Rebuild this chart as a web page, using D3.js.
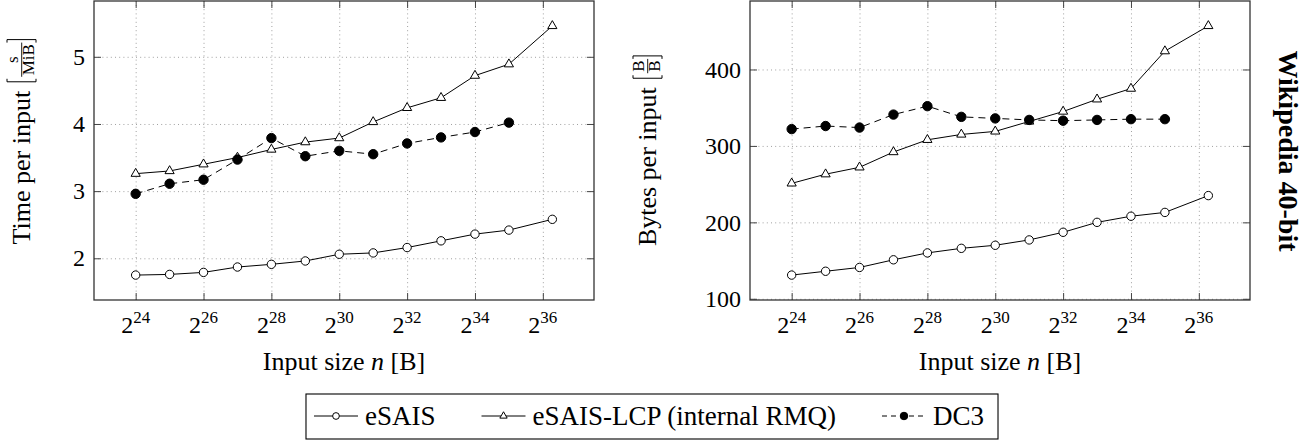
<!DOCTYPE html>
<html>
<head>
<meta charset="utf-8">
<script src="https://cdn.jsdelivr.net/npm/d3@7"></script>
<style>
  body { margin: 0; background: #fff; }
  svg text { font-family: "Liberation Serif", "Times New Roman", serif; fill: #000; }
</style>
</head>
<body>
<div id="chart"></div>
<script>
// log2 of the input size n in bytes
const sizeExp = [24, 25, 26, 27, 28, 29, 30, 31, 32, 33, 34, 35, 36.28];
const xTicks = [24, 26, 28, 30, 32, 34, 36];

// time per input [s / MiB]
const esaisTime = [1.75, 1.76, 1.79, 1.87, 1.91, 1.96, 2.06, 2.08, 2.16, 2.26, 2.36, 2.42, 2.58];
const lcpTime   = [3.26, 3.30, 3.40, 3.50, 3.62, 3.73, 3.79, 4.03, 4.24, 4.39, 4.72, 4.89, 5.46];
const dc3Time   = [2.96, 3.11, 3.17, 3.47, 3.79, 3.52, 3.60, 3.55, 3.71, 3.80, 3.88, 4.02];
const timeTicks = [2, 3, 4, 5];

// bytes per input [B / B]
const esaisBytes = [131, 136, 141, 151, 160, 166, 170, 177, 187, 200, 208, 213, 235];
const lcpBytes   = [251, 263, 272, 292, 308, 315, 319, 332, 345, 361, 375, 424, 457];
const dc3Bytes   = [322, 326, 324, 341, 352, 338, 336, 334, 333, 334, 335, 335];
const bytesTicks = [100, 200, 300, 400];

const seriesNames = ["eSAIS", "eSAIS-LCP (internal RMQ)", "DC3"];
const markers = ["circle", "triangle", "dot"];
const dashed = [false, false, true];

const width = 1315, height = 440;
const plotTop = 1, plotBottom = 300;
const serif = '"Liberation Serif", "Times New Roman", serif';

const svg = d3.select("#chart")
  .append("svg")
  .attr("width", width)
  .attr("height", height)
  .attr("font-family", serif);

// pgfplots style "enlarge limits" by 10% on each side
const padded = ext => { const d = (ext[1] - ext[0]) * 0.1; return [ext[0] - d, ext[1] + d]; };

const panels = [
  { left: 94, right: 594, ticks: timeTicks, values: [esaisTime, lcpTime, dc3Time],
    label: "Time per input", num: "s", den: "MiB", labelX: 30, labelY: 142 },
  { left: 750, right: 1250, ticks: bytesTicks, values: [esaisBytes, lcpBytes, dc3Bytes],
    label: "Bytes per input", num: "B", den: "B", labelX: 656, labelY: 151 }
];

function drawMarker(g, type, cx, cy, scale = 1) {
  if (type === "circle") {
    g.append("circle").attr("cx", cx).attr("cy", cy).attr("r", 4.2 * scale)
      .attr("fill", "#fff").attr("stroke", "#000").attr("stroke-width", 1);
  } else if (type === "dot") {
    g.append("circle").attr("cx", cx).attr("cy", cy).attr("r", 4.7 * scale)
      .attr("fill", "#000").attr("stroke", "#000").attr("stroke-width", 1);
  } else {
    const r = 5.3 * scale;
    g.append("path")
      .attr("d", `M${cx},${cy - r}L${cx + 0.866 * r},${cy + 0.5 * r}L${cx - 0.866 * r},${cy + 0.5 * r}Z`)
      .attr("fill", "#fff").attr("stroke", "#000").attr("stroke-width", 1);
  }
}

panels.forEach(p => {
  const x = d3.scaleLinear().domain(padded(d3.extent(sizeExp))).range([p.left, p.right]);
  const y = d3.scaleLinear().domain(padded(d3.extent(p.values.flat()))).range([plotBottom, plotTop]);
  const innerW = p.right - p.left, innerH = plotBottom - plotTop;

  const g = svg.append("g");

  // grid
  g.append("g")
    .attr("transform", `translate(0,${plotBottom})`)
    .call(d3.axisBottom(x).tickValues(xTicks).tickSize(-innerH).tickFormat(""))
    .call(a => a.select(".domain").remove())
    .call(a => a.selectAll(".tick line").attr("stroke", "#a0a0a0").attr("stroke-dasharray", "1,3.2"));
  g.append("g")
    .attr("transform", `translate(${p.left},0)`)
    .call(d3.axisLeft(y).tickValues(p.ticks).tickSize(-innerW).tickFormat(""))
    .call(a => a.select(".domain").remove())
    .call(a => a.selectAll(".tick line").attr("stroke", "#a0a0a0").attr("stroke-dasharray", "1,3.2"));

  // inward tick marks on all four sides
  const tickLen = 7;
  [[d3.axisBottom(x).tickValues(xTicks), `translate(0,${plotBottom})`],
   [d3.axisTop(x).tickValues(xTicks), `translate(0,${plotTop})`],
   [d3.axisLeft(y).tickValues(p.ticks), `translate(${p.left},0)`],
   [d3.axisRight(y).tickValues(p.ticks), `translate(${p.right},0)`]].forEach(([ax, tr]) => {
    g.append("g").attr("transform", tr)
      .call(ax.tickSize(-tickLen).tickFormat(""))
      .call(a => a.select(".domain").remove())
      .call(a => a.selectAll(".tick line").attr("stroke", "#444").attr("stroke-width", 1));
  });

  // series
  p.values.forEach((vals, s) => {
    const line = d3.line()
      .x((d, i) => x(sizeExp[i]))
      .y(d => y(d));
    g.append("path")
      .datum(vals)
      .attr("fill", "none")
      .attr("stroke", "#000")
      .attr("stroke-width", 1)
      .attr("stroke-dasharray", dashed[s] ? "7,5" : null)
      .attr("d", line);
    const mg = g.append("g");
    vals.forEach((v, i) => drawMarker(mg, markers[s], x(sizeExp[i]), y(v)));
  });

  // frame
  g.append("rect")
    .attr("x", p.left).attr("y", plotTop)
    .attr("width", innerW).attr("height", innerH)
    .attr("fill", "none").attr("stroke", "#333").attr("stroke-width", 1.3);

  // x tick labels 2^k
  const xl = g.append("g").selectAll("text")
    .data(xTicks)
    .join("text")
    .attr("x", d => x(d))
    .attr("y", 333)
    .attr("text-anchor", "middle")
    .attr("font-family", serif)
    .attr("font-size", 24);
  xl.append("tspan").text("2");
  xl.append("tspan").attr("dy", -10).attr("font-size", 17).text(d => d);

  // y tick labels
  g.append("g").selectAll("text")
    .data(p.ticks)
    .join("text")
    .attr("x", p.left - 9)
    .attr("y", d => y(d))
    .attr("dy", "0.34em")
    .attr("text-anchor", "end")
    .attr("font-family", serif)
    .attr("font-size", 24)
    .text(d => d);

  // x label
  const xt = g.append("text")
    .attr("x", (p.left + p.right) / 2)
    .attr("y", 370)
    .attr("text-anchor", "middle")
    .attr("font-family", serif)
    .attr("font-size", 26);
  xt.append("tspan").text("Input size ");
  xt.append("tspan").attr("font-style", "italic").text("n");
  xt.append("tspan").text(" [B]");

  // y label with bracketed fraction unit
  const lg = svg.append("g")
    .attr("transform", `translate(${p.labelX},${p.labelY}) rotate(-90)`);
  const inner = lg.append("g");
  const main = inner.append("text").attr("font-size", 26).attr("font-family", serif)
    .attr("x", 0).attr("y", 0).text(p.label);
  const mw = main.node().getComputedTextLength();
  const numT = inner.append("text").attr("font-size", 17).attr("font-family", serif)
    .attr("y", -12).attr("text-anchor", "middle").text(p.num);
  const denT = inner.append("text").attr("font-size", 17).attr("font-family", serif)
    .attr("y", 4).attr("text-anchor", "middle").text(p.den);
  const fw = Math.max(numT.node().getComputedTextLength(), denT.node().getComputedTextLength()) + 3;
  const bx = mw + 9, fx = bx + 5, ex = fx + fw + 3;
  numT.attr("x", fx + fw / 2);
  denT.attr("x", fx + fw / 2);
  inner.append("line").attr("x1", fx).attr("x2", fx + fw).attr("y1", -8.3).attr("y2", -8.3)
    .attr("stroke", "#000").attr("stroke-width", 0.9);
  inner.append("path")
    .attr("d", `M${bx + 3},-23H${bx}V6H${bx + 3}M${ex - 3},-23H${ex}V6H${ex - 3}`)
    .attr("fill", "none").attr("stroke", "#000").attr("stroke-width", 1);
  inner.attr("transform", `translate(${-ex / 2},0)`);
});

// row label on the right
svg.append("text")
  .attr("transform", "translate(1279,151) rotate(90)")
  .attr("text-anchor", "middle")
  .attr("font-family", serif)
  .attr("font-size", 28)
  .attr("font-weight", "bold")
  .text("Wikipedia 40-bit");

// legend
const legend = svg.append("g");
const box = legend.append("rect")
  .attr("y", 394).attr("height", 45)
  .attr("fill", "#fff").attr("stroke", "#000").attr("stroke-width", 1.1);
let cursor = 0;
const items = legend.append("g");
seriesNames.forEach((name, s) => {
  const ig = items.append("g");
  ig.append("line")
    .attr("x1", cursor).attr("x2", cursor + 44)
    .attr("y1", 416).attr("y2", 416)
    .attr("stroke", "#000").attr("stroke-width", 1)
    .attr("stroke-dasharray", dashed[s] ? "5,4" : null);
  drawMarker(ig, markers[s], cursor + 22, 416, 0.8);
  const t = ig.append("text")
    .attr("x", cursor + 51).attr("y", 425)
    .attr("font-family", serif)
    .attr("font-size", 27)
    .text(name);
  cursor += 51 + t.node().getComputedTextLength() + 46;
});
const itemsW = cursor - 46;
const boxW = itemsW + 22;
const boxX = 652 - boxW / 2;
box.attr("x", boxX).attr("width", boxW);
items.attr("transform", `translate(${boxX + 8},0)`);
</script>
</body>
</html>
